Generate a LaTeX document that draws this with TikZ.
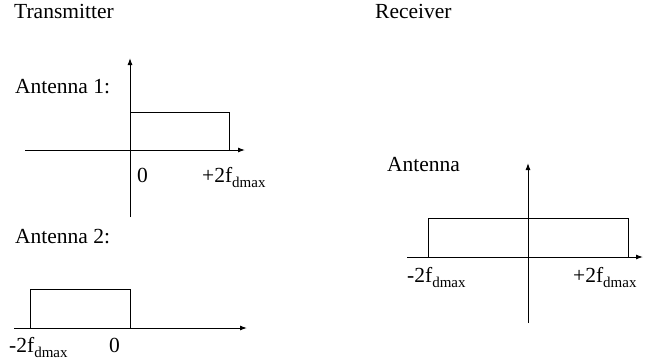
\documentclass[tikz,border=0pt]{standalone}
\usepackage{fontspec}
\setmainfont{Liberation Serif}
\usetikzlibrary{arrows.meta}
\newcommand\fdm{f\raisebox{-5pt}{\fontsize{15}{15}\selectfont dmax}}
\begin{document}
\begin{tikzpicture}[x=1pt,y=-1pt,
  axis/.style={line width=1pt,-{Latex[length=7pt,width=5pt]}},
  band/.style={draw,line width=1pt},
  lbl/.style={anchor=base west,inner sep=0pt,font=\fontsize{21.5}{26}\selectfont}]
\useasboundingbox (0,0) rectangle (662,364);
% titles
\node[lbl] (tx) at (14,18) {Transmitter};
\node[lbl] (rx) at (375,18) {Receiver};
% Plot 1
\node[lbl] (a1) at (15,93) {Antenna 1:};
\coordinate (p1l) at (25,150);
\coordinate (p1r) at (245,150);
\coordinate (p1b) at (130,217);
\coordinate (p1t) at (130,58);
\draw[axis] (p1l) -- (p1r);
\draw[axis] (p1b) -- (p1t);
\draw[band] (130,112) rectangle (229,150);
\node[lbl] (z1) at (137,182) {0};
\node[lbl] (f1) at (202,182) {+2\fdm};
% Plot 2
\node[lbl] (a2) at (15,243) {Antenna 2:};
\coordinate (p2l) at (14,328);
\coordinate (p2r) at (247,328);
\draw[axis] (p2l) -- (p2r);
\draw[band] (30,289) rectangle (130,328);
\node[lbl] (f2) at (9,352) {-2\fdm};
\node[lbl] (z2) at (109,352) {0};
% Plot 3
\node[lbl] (a3) at (387,171) {Antenna};
\coordinate (p3l) at (407,257);
\coordinate (p3r) at (643,257);
\coordinate (p3b) at (528,323);
\coordinate (p3t) at (528,163);
\draw[axis] (p3l) -- (p3r);
\draw[axis] (p3b) -- (p3t);
\draw[band] (428,218) rectangle (628,257);
\node[lbl] (f3) at (407,282) {-2\fdm};
\node[lbl] (f4) at (573,282) {+2\fdm};
\end{tikzpicture}
\end{document}
